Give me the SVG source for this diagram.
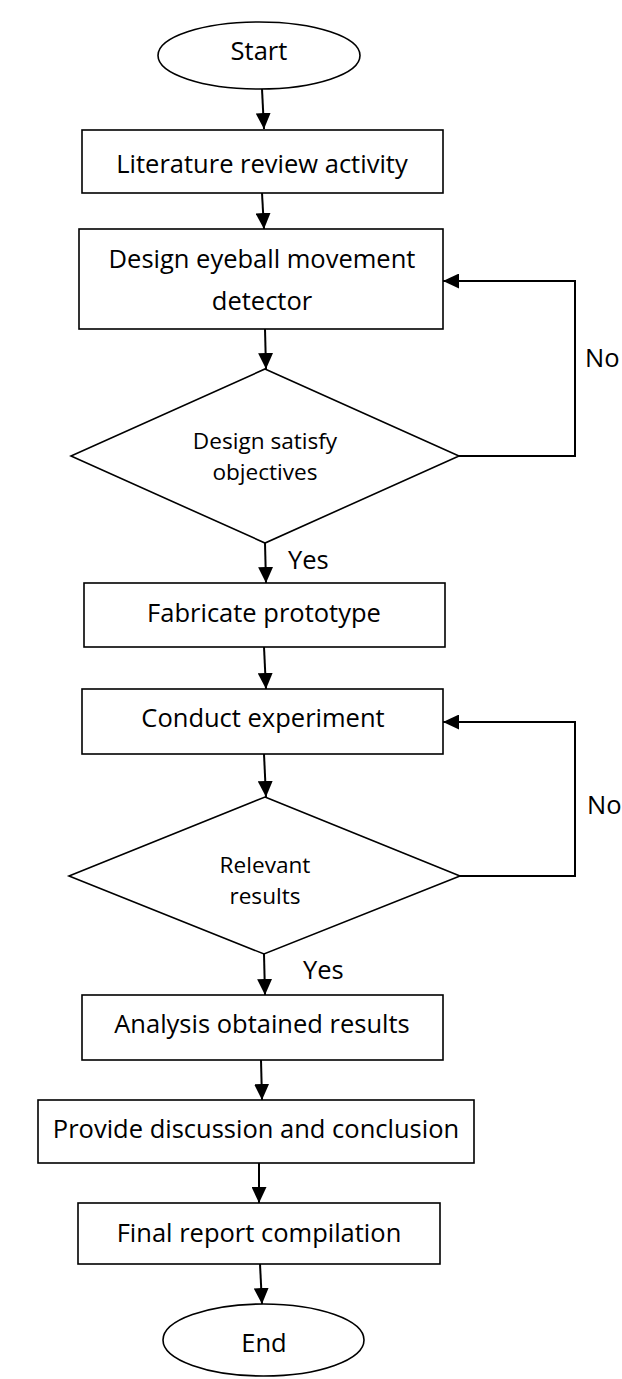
<svg xmlns="http://www.w3.org/2000/svg" width="622" height="1379" viewBox="0 0 622 1379">
<style>
.shape{fill:#fff;stroke:#000;stroke-width:1.6}
.t{font-family:"Open Sans","DejaVu Sans",sans-serif;font-size:25.5px;fill:#000;text-anchor:middle}
.d{font-family:"Open Sans","DejaVu Sans",sans-serif;font-size:22.6px;fill:#000;text-anchor:middle}
.lbl{font-family:"Open Sans","DejaVu Sans",sans-serif;font-size:25.5px;fill:#000}
.c{fill:none;stroke:#000;stroke-width:2}
</style>
<defs>
<marker id="ah" markerUnits="userSpaceOnUse" markerWidth="16" markerHeight="15" refX="16" refY="7.5" orient="auto">
<path d="M0,0 L16,7.5 L0,15 Z" fill="#000"/>
</marker>
</defs>
<rect width="622" height="1379" fill="#fff"/>
<g id="connectors">
<path class="c" d="M262,89 L264,129" marker-end="url(#ah)"/>
<path class="c" d="M262,193 L264,229" marker-end="url(#ah)"/>
<path class="c" d="M265,329 L266,369" marker-end="url(#ah)"/>
<path class="c" d="M265,543 L266,583" marker-end="url(#ah)"/>
<path class="c" d="M264,647 L266,689" marker-end="url(#ah)"/>
<path class="c" d="M264,754 L266,797" marker-end="url(#ah)"/>
<path class="c" d="M264,954 L265,995" marker-end="url(#ah)"/>
<path class="c" d="M261,1060 L262,1100" marker-end="url(#ah)"/>
<path class="c" d="M259,1163 L259,1203" marker-end="url(#ah)"/>
<path class="c" d="M260,1264 L262,1304" marker-end="url(#ah)"/>
<path class="c" d="M459,456 L575,456 L575,281 L443,281" marker-end="url(#ah)"/>
<path class="c" d="M460,876 L575,876 L575,722 L443,722" marker-end="url(#ah)"/>
<text class="lbl" x="585" y="367">No</text>
<text class="lbl" x="587" y="814">No</text>
<text class="lbl" x="288" y="569">Yes</text>
<text class="lbl" x="303" y="979">Yes</text>
</g>
<g id="start">
<ellipse class="shape" cx="259" cy="55.5" rx="101" ry="33.5"/>
<text class="t" x="259" y="60">Start</text>
</g>
<g id="literature">
<rect class="shape" x="82" y="130" width="361" height="63"/>
<text class="t" x="262" y="173">Literature review activity</text>
</g>
<g id="design">
<rect class="shape" x="79" y="229" width="364" height="100"/>
<text class="t" x="262" y="268">Design eyeball movement</text>
<text class="t" x="262" y="310">detector</text>
</g>
<g id="decision1">
<polygon class="shape" points="265,369 459,456 265,543 71,456"/>
<text class="d" x="265" y="449">Design satisfy</text>
<text class="d" x="265" y="480">objectives</text>
</g>
<g id="fabricate">
<rect class="shape" x="84" y="583" width="361" height="64"/>
<text class="t" x="264" y="622">Fabricate prototype</text>
</g>
<g id="conduct">
<rect class="shape" x="82" y="689" width="361" height="65"/>
<text class="t" x="263" y="727">Conduct experiment</text>
</g>
<g id="decision2">
<polygon class="shape" points="265,797 460,876 264,954 69,876"/>
<text class="d" x="265" y="873">Relevant</text>
<text class="d" x="265" y="904">results</text>
</g>
<g id="analysis">
<rect class="shape" x="82" y="995" width="361" height="65"/>
<text class="t" x="262" y="1033">Analysis obtained results</text>
</g>
<g id="provide">
<rect class="shape" x="38" y="1100" width="436" height="63"/>
<text class="t" x="256" y="1138">Provide discussion and conclusion</text>
</g>
<g id="final">
<rect class="shape" x="78" y="1203" width="362" height="61"/>
<text class="t" x="259" y="1242">Final report compilation</text>
</g>
<g id="end">
<ellipse class="shape" cx="263.5" cy="1340" rx="100.5" ry="36"/>
<text class="t" x="264" y="1352">End</text>
</g>
</svg>
